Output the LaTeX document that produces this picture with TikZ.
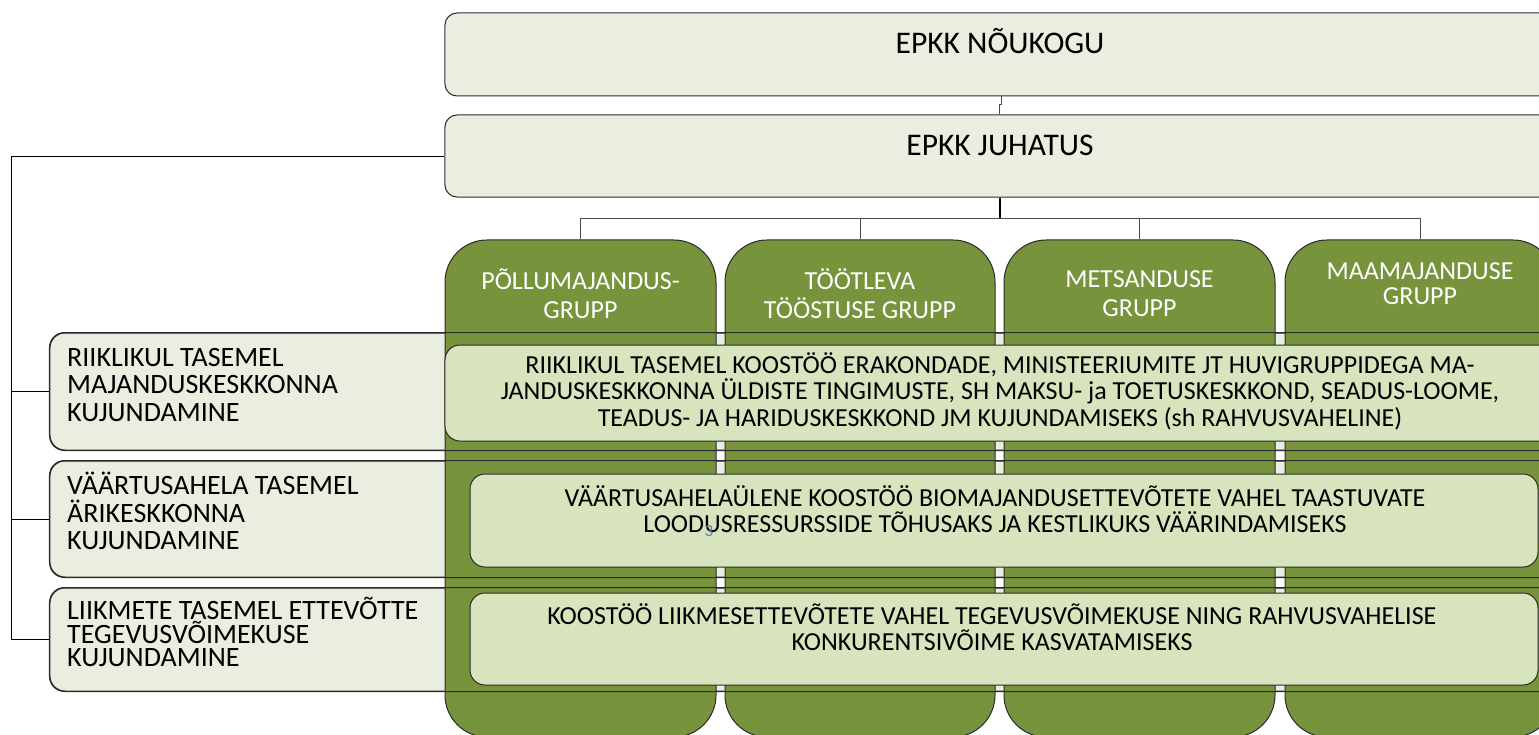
\documentclass[tikz,border=0pt]{standalone}
\usepackage{fontspec}
\setmainfont{Carlito}
\definecolor{headfill}{HTML}{EAEEE1}
\definecolor{rowfill}{HTML}{EAEEE1}
\definecolor{boxfill}{HTML}{D8E4BD}
\definecolor{grp}{HTML}{77933C}
\definecolor{edge}{HTML}{2B2B2B}
\definecolor{fn}{HTML}{4F81BD}
\begin{document}
\begin{tikzpicture}[x=1bp,y=-1bp,
  headbox/.style={draw=edge, line width=1bp, fill=headfill, rounded corners=12bp, inner sep=0pt},
  rowbox/.style={draw=edge, line width=1bp, fill=rowfill, rounded corners=15bp, inner sep=0pt},
  grpbox/.style={draw=edge, line width=1bp, fill=grp, rounded corners=42bp, inner sep=0pt},
  taskbox/.style={draw=edge, line width=1bp, fill=boxfill, rounded corners=15bp, inner sep=0pt},
  headtext/.style={font=\fontsize{31.5bp}{36bp}\selectfont, inner sep=0pt, anchor=base},
  grptext/.style={font=\fontsize{26bp}{29bp}\selectfont, text=white, align=center, inner sep=0pt},
  rowtext/.style={font=\fontsize{28bp}{27.5bp}\selectfont, align=left, inner sep=0pt, anchor=west},
  tasktext/.style={font=\fontsize{26bp}{26.5bp}\selectfont, align=center, inner sep=0pt},
  link/.style={draw=edge!85, line width=1bp},
  mainlink/.style={draw=black, line width=1.5bp},
  outline/.style={draw=edge, line width=1bp, rounded corners=15bp}
]
\useasboundingbox (0,0) rectangle (1539,735);
\clip (0,0) rectangle (1539,735);

% heading boxes
\node[headbox, minimum width=1110bp, minimum height=83bp] (noukogu) at (1000,54.5) {};
\node[headbox, minimum width=1110bp, minimum height=82bp] (juhatus) at (1000,156) {};
\node[headtext] (noukogutext) at (1000,54) {EPKK NÕUKOGU};
\node[headtext] (juhatustext) at (1000,155) {EPKK JUHATUS};

% row boxes (left levels)
\node[rowbox, minimum width=1520bp, minimum height=117bp] (row1) at (810,391.5) {};
\node[rowbox, minimum width=1520bp, minimum height=116bp] (row2) at (810,519) {};
\node[rowbox, minimum width=1520bp, minimum height=103bp] (row3) at (810,639.5) {};

% group columns
\node[grpbox, minimum width=271bp, minimum height=497bp] (col1) at (580.5,488.5) {};
\node[grpbox, minimum width=270bp, minimum height=497bp] (col2) at (860,488.5) {};
\node[grpbox, minimum width=271bp, minimum height=497bp] (col3) at (1139.5,488.5) {};
\node[grpbox, minimum width=270bp, minimum height=497bp] (col4) at (1420,488.5) {};

% row outlines over the columns
\draw[outline] (row1.north west) rectangle (row1.south east);
\draw[outline] (row2.north west) rectangle (row2.south east);
\draw[outline] (row3.north west) rectangle (row3.south east);

% column labels
\node[grptext] (col1text) at (580.5,294) {PÕLLUMAJANDUS-\\GRUPP};
\node[grptext] (col2text) at (860,294) {TÖÖTLEVA\\TÖÖSTUSE GRUPP};
\node[grptext] (col3text) at (1139.5,294) {METSANDUSE\\GRUPP};
\node[grptext, font=\fontsize{26bp}{25bp}\selectfont] (col4text) at (1420,284) {MAAMAJANDUSE\\GRUPP};

% row texts
\node[rowtext] (row1text) at (67,385) {RIIKLIKUL TASEMEL\\MAJANDUSKESKKONNA\\KUJUNDAMINE};
\node[rowtext] (row2text) at (67,511) {VÄÄRTUSAHELA TASEMEL\\ÄRIKESKKONNA\\KUJUNDAMINE};
\node[rowtext, font=\fontsize{28bp}{23.5bp}\selectfont] (row3text) at (67,632) {LIIKMETE TASEMEL ETTEVÕTTE\\TEGEVUSVÕIMEKUSE\\KUJUNDAMINE};

% task boxes
\node[taskbox, minimum width=1110bp, minimum height=96bp] (task1) at (1000,393) {};
\node[taskbox, minimum width=1068bp, minimum height=93bp] (task2) at (1004,520.5) {};
\node[taskbox, minimum width=1068bp, minimum height=92bp] (task3) at (1004,639) {};

\node[tasktext] (task1text) at (1000,391) {RIIKLIKUL TASEMEL KOOSTÖÖ ERAKONDADE, MINISTEERIUMITE JT HUVIGRUPPIDEGA MA-\\JANDUSKESKKONNA ÜLDISTE TINGIMUSTE, SH MAKSU- ja TOETUSKESKKOND, SEADUS-LOOME,\\TEADUS- JA HARIDUSKESKKOND JM KUJUNDAMISEKS (sh RAHVUSVAHELINE)};
\node[tasktext] (task2text) at (995,509) {VÄÄRTUSAHELAÜLENE KOOSTÖÖ BIOMAJANDUSETTEVÕTETE VAHEL TAASTUVATE\\LOODUSRESSURSSIDE TÕHUSAKS JA KESTLIKUKS VÄÄRINDAMISEKS};
\node[tasktext] (task3text) at (992,627) {KOOSTÖÖ LIIKMESETTEVÕTETE VAHEL TEGEVUSVÕIMEKUSE NING RAHVUSVAHELISE\\KONKURENTSIVÕIME KASVATAMISEKS};

\node[font=\fontsize{17bp}{17bp}\selectfont, text=fn, inner sep=0pt] (fnmark) at (709,531) {3};

% connectors
\draw[link] ([xshift=1bp]noukogu.south) -- ++(0,8) -| ([xshift=-1bp]juhatus.north);
\draw[mainlink] (juhatus.south) -- ++(0,21) coordinate (hub);
\draw[link] (col1.north) |- (hub) -| (col4.north);
\draw[link] (col2.north) -- (col2.north |- hub);
\draw[link] (col3.north) -- (col3.north |- hub);

\coordinate (lb) at ([xshift=-433bp]juhatus.west);
\draw[link, draw=black] (juhatus.west) -- (lb) |- (row3.west);
\draw[link, draw=black] (lb |- row1.west) -- (row1.west);
\draw[link, draw=black] (lb |- row2.west) -- (row2.west);
\end{tikzpicture}
\end{document}
